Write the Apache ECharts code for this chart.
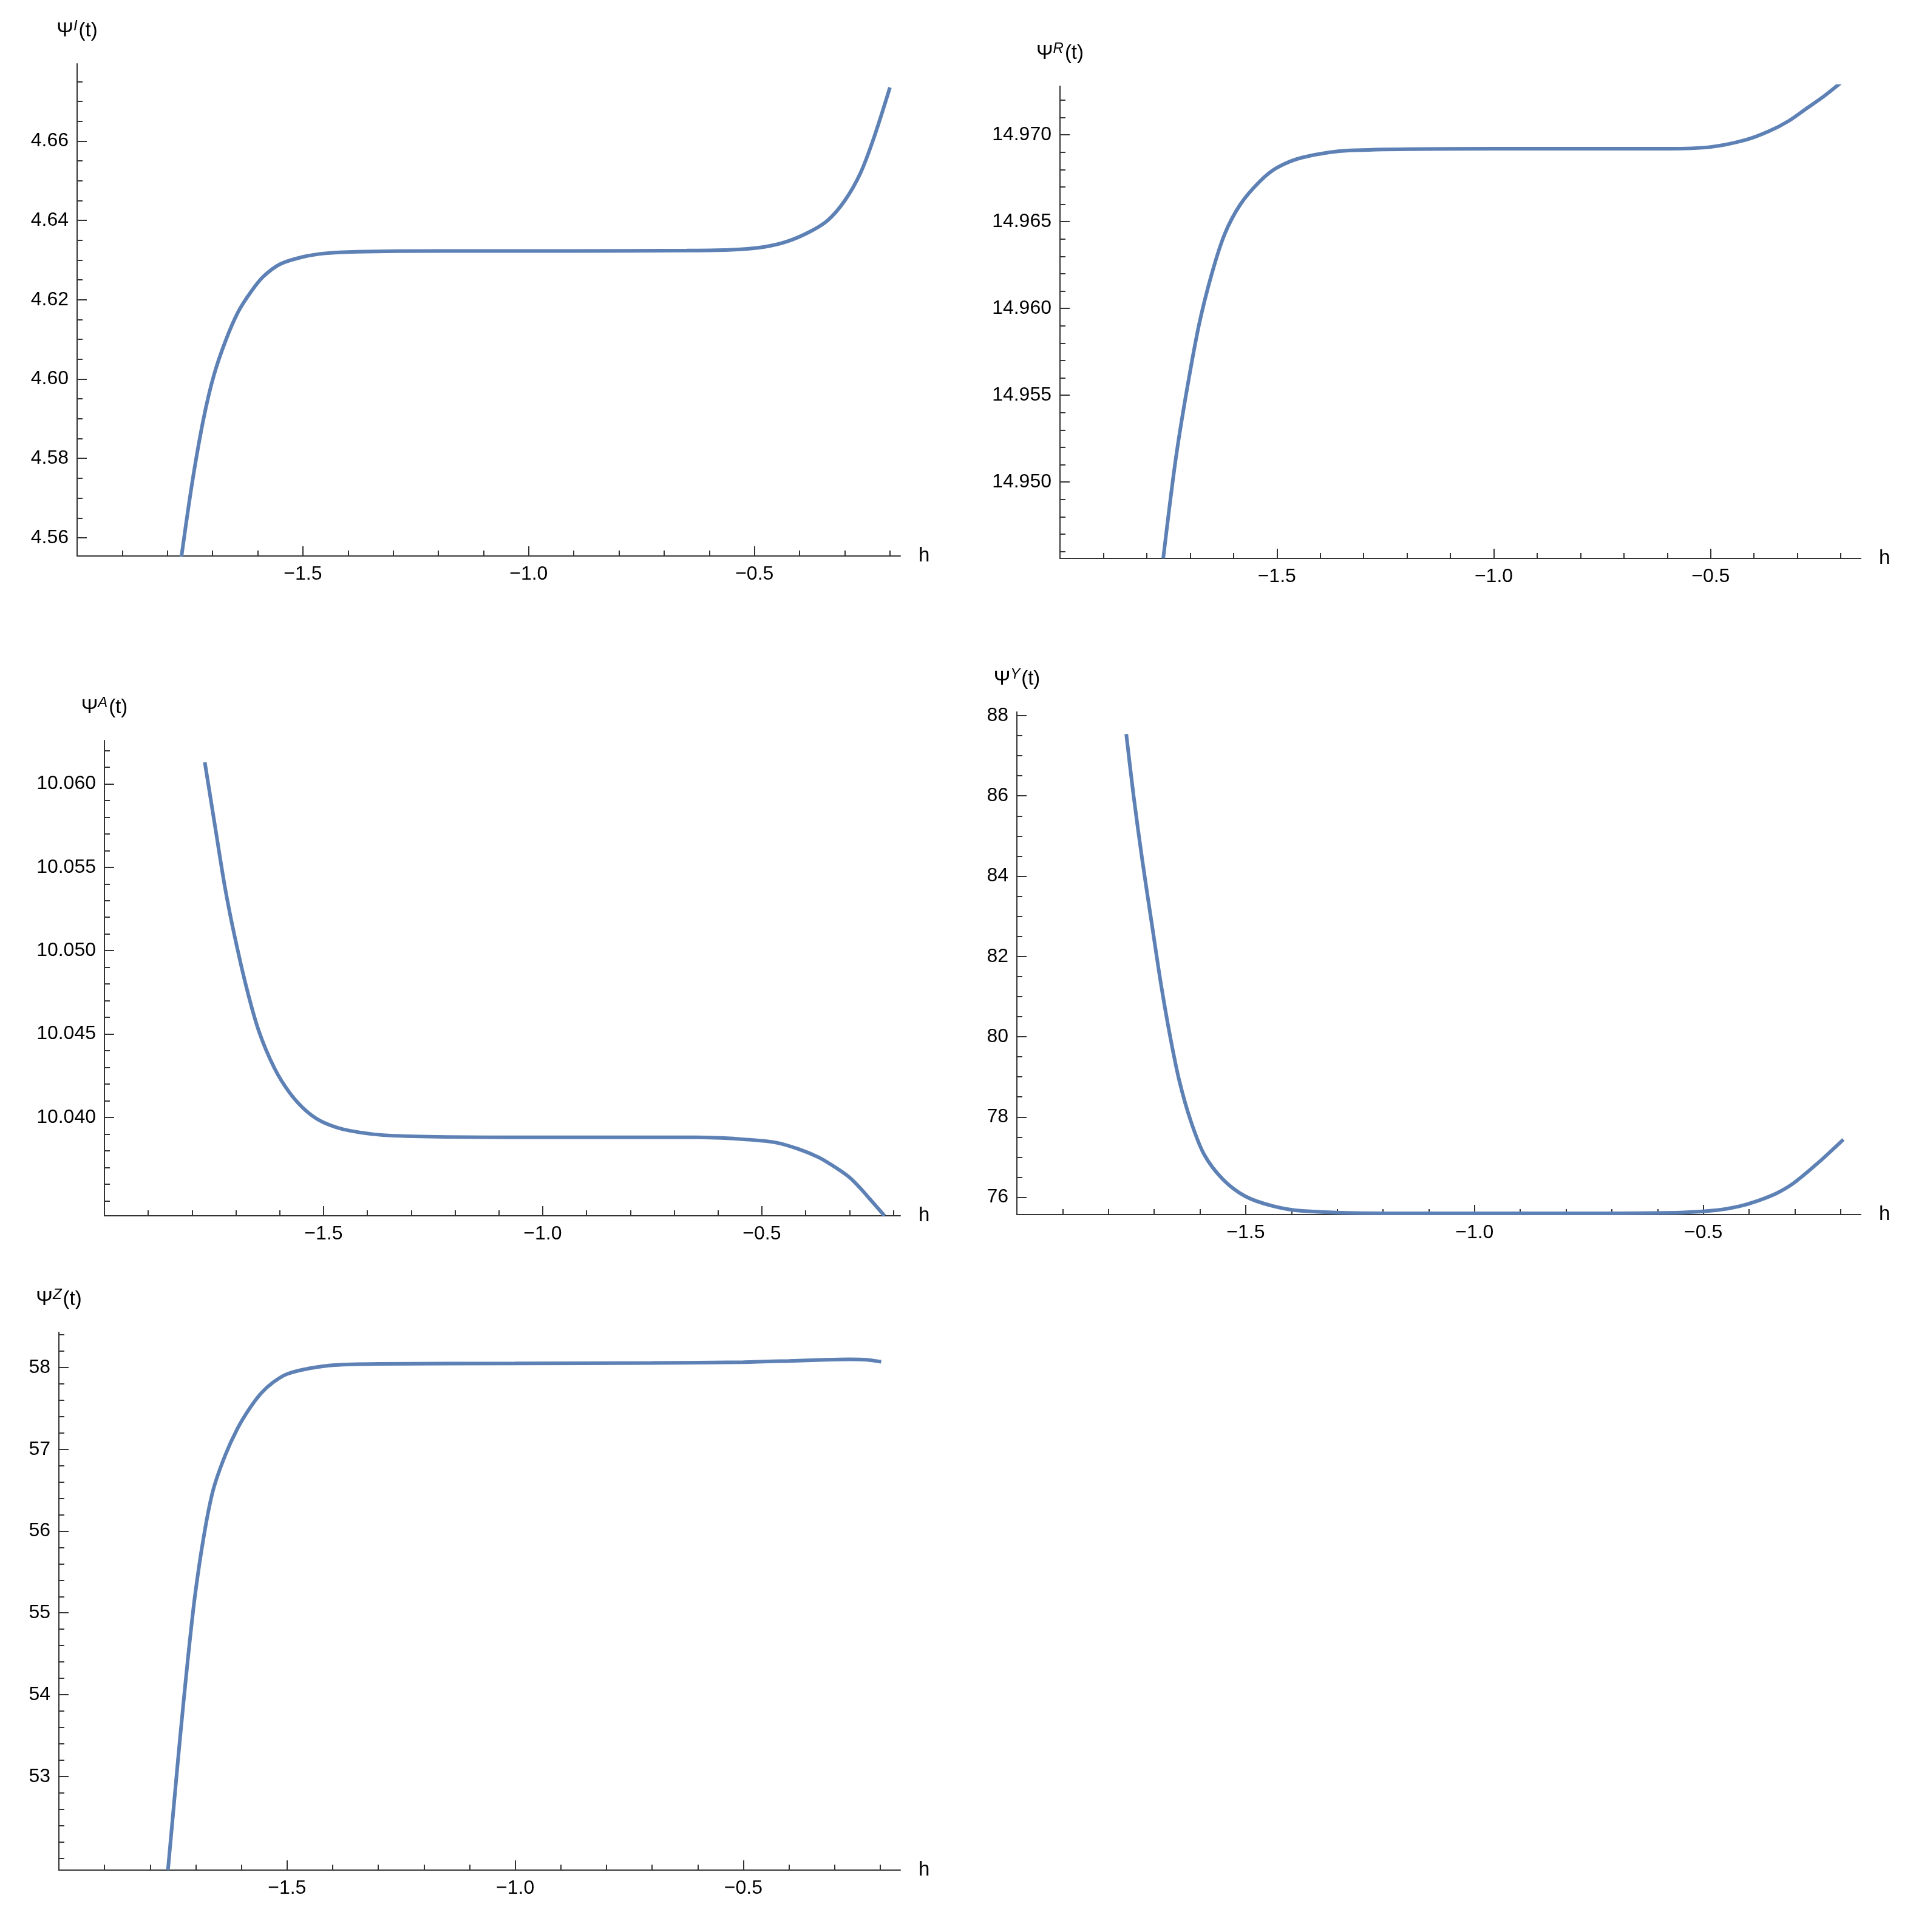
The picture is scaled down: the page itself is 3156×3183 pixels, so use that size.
<!DOCTYPE html>
<html style="height: 100%">
<head>
  <meta charset="utf-8">
</head>
<body style="height: 100%; margin: 0; background: #fff">
  <div id="container" style="height: 100%"></div>
  <script type="text/javascript" src="https://cdn.jsdelivr.net/npm/echarts@6/dist/echarts.min.js"></script>
  <script type="text/javascript">
    // curves: [h, value]
    var psiI = [[-1.769, 4.5552], [-1.745, 4.574], [-1.72, 4.590], [-1.697, 4.601], [-1.67, 4.610],
      [-1.643, 4.617], [-1.615, 4.622], [-1.588, 4.6258], [-1.55, 4.6290], [-1.5, 4.6308], [-1.45, 4.6317],
      [-1.38, 4.6321], [-1.2, 4.6323], [-0.9, 4.6323], [-0.65, 4.6324], [-0.55, 4.6326], [-0.48, 4.6333],
      [-0.43, 4.6346], [-0.38, 4.6370], [-0.338, 4.6400], [-0.30, 4.6450], [-0.265, 4.6520],
      [-0.235, 4.6610], [-0.2, 4.6735]];
    var psiR = [[-1.762, 14.9456], [-1.735, 14.9510], [-1.711, 14.9548], [-1.68, 14.9590], [-1.65, 14.9620],
      [-1.62, 14.9643], [-1.584, 14.9660], [-1.54, 14.9673], [-1.5, 14.9681], [-1.44, 14.9687],
      [-1.33, 14.9691], [-1.0, 14.9692], [-0.6, 14.9692], [-0.5, 14.9693], [-0.42, 14.9697],
      [-0.366, 14.9702], [-0.32, 14.9708], [-0.28, 14.9715], [-0.24, 14.9722], [-0.195, 14.9731]];
    var psiA = [[-1.771, 10.0613], [-1.746, 10.0572], [-1.725, 10.0538], [-1.704, 10.0510], [-1.676, 10.0478],
      [-1.648, 10.0452], [-1.613, 10.0430], [-1.578, 10.0415], [-1.54, 10.0404], [-1.5, 10.0397],
      [-1.44, 10.0392], [-1.34, 10.0389], [-1.0, 10.0388], [-0.65, 10.0388], [-0.55, 10.0387],
      [-0.47, 10.0385], [-0.416, 10.0381], [-0.37, 10.0376], [-0.332, 10.0370], [-0.30, 10.0364],
      [-0.277, 10.0358], [-0.25, 10.0350], [-0.22, 10.0341]];
    var psiY = [[-1.761, 87.54], [-1.745, 86.0], [-1.726, 84.4], [-1.705, 82.8], [-1.685, 81.3],
      [-1.665, 80.0], [-1.645, 78.9], [-1.62, 77.9], [-1.591, 77.07], [-1.55, 76.45], [-1.5, 76.02],
      [-1.44, 75.78], [-1.376, 75.66], [-1.2, 75.6], [-0.8, 75.6], [-0.55, 75.62], [-0.47, 75.68],
      [-0.42, 75.78], [-0.384, 75.90], [-0.34, 76.10], [-0.303, 76.35], [-0.25, 76.85], [-0.194, 77.44]];
    var psiZ = [[-1.761, 51.855], [-1.748, 52.65], [-1.735, 53.44], [-1.718, 54.40], [-1.702, 55.20],
      [-1.682, 55.95], [-1.662, 56.50], [-1.636, 56.92], [-1.609, 57.25], [-1.582, 57.50],
      [-1.556, 57.69], [-1.53, 57.82], [-1.5, 57.92], [-1.45, 57.99], [-1.396, 58.03], [-1.3, 58.045],
      [-1.0, 58.05], [-0.7, 58.055], [-0.5, 58.065], [-0.4, 58.08], [-0.32, 58.095], [-0.267, 58.10],
      [-0.23, 58.095], [-0.198, 58.07]];

    var hTicks = [-1.5, -1.0, -0.5];
    var ticksI = [4.56, 4.58, 4.60, 4.62, 4.64, 4.66];
    var ticksR = [14.950, 14.955, 14.960, 14.965, 14.970];
    var ticksA = [10.040, 10.045, 10.050, 10.055, 10.060];
    var ticksY = [76, 78, 80, 82, 84, 86, 88];
    var ticksZ = [53, 54, 55, 56, 57, 58];

    var panels = [
      { data: psiI, sup: 'I', ticks: ticksI, dec: 2, minor: 0.005, ymin: 4.5554, ymax: 4.6795, xmax: -0.177,
        box: { left: 127, top: 105, width: 1356, height: 811 } },
      { data: psiR, sup: 'R', ticks: ticksR, dec: 3, minor: 0.001, ymin: 14.9456, ymax: 14.9728, xmax: -0.154,
        box: { left: 1746, top: 142, width: 1319, height: 778 } },
      { data: psiA, sup: 'A', ticks: ticksA, dec: 3, minor: 0.001, ymin: 10.0341, ymax: 10.0626, xmax: -0.184,
        box: { left: 172, top: 1220, width: 1311, height: 783 } },
      { data: psiY, sup: 'Y', ticks: ticksY, dec: 0, minor: 0.5, ymin: 75.57, ymax: 88.09, xmax: -0.156,
        box: { left: 1675, top: 1173, width: 1390, height: 828 } },
      { data: psiZ, sup: 'Z', ticks: ticksZ, dec: 0, minor: 0.2, ymin: 51.855, ymax: 58.43, xmax: -0.156,
        box: { left: 97, top: 2195, width: 1386, height: 886 } }
    ];

    function steps(min, max, step) {
      var out = [];
      var k = Math.ceil(min / step - 1e-9);
      for (; k * step <= max + 1e-9; k++) out.push(+(k * step).toFixed(6));
      return out;
    }

    var font = 'Liberation Sans, Arial, sans-serif';
    var lineCol = '#333';
    var grid = [], xAxis = [], yAxis = [], series = [];

    panels.forEach(function (p, i) {
      grid.push(Object.assign({}, p.box));
      var xBase = {
        type: 'value', gridIndex: i, min: -2.0, max: p.xmax, position: 'bottom',
        splitLine: { show: false },
        axisLine: { onZero: false, lineStyle: { color: lineCol, width: 2 } }
      };
      xAxis.push(Object.assign({}, xBase, {
        name: 'h', nameLocation: 'end', nameGap: 30,
        nameTextStyle: { fontFamily: font, fontSize: 33, color: '#000', verticalAlign: 'middle' },
        axisTick: { inside: true, length: 16, customValues: steps(-2, p.xmax, 0.5), lineStyle: { color: lineCol, width: 2 } },
        axisLabel: { customValues: hTicks, fontFamily: font, fontSize: 32, color: '#000', margin: 14,
          formatter: function (v) { return v.toFixed(1).replace('-', '\u2212'); } }
      }));
      xAxis.push(Object.assign({}, xBase, {
        axisLine: { show: false },
        axisTick: { inside: true, length: 9, customValues: steps(-2, p.xmax, 0.1), lineStyle: { color: lineCol, width: 2 } },
        axisLabel: { show: false }
      }));
      var yBase = {
        type: 'value', gridIndex: i, min: p.ymin, max: p.ymax, position: 'left',
        splitLine: { show: false },
        axisLine: { onZero: false, lineStyle: { color: lineCol, width: 2 } }
      };
      yAxis.push(Object.assign({}, yBase, {
        name: '{a|\u03A8}{s|' + p.sup + '}{a|(t)}', nameLocation: 'end', nameGap: 34,
        nameTextStyle: { align: 'center', rich: {
          a: { fontFamily: font, fontSize: 33, color: '#000' },
          s: { fontFamily: font, fontSize: 24, fontStyle: 'italic', color: '#000', verticalAlign: 'top', padding: [0, 2, 16, 0] }
        } },
        axisTick: { inside: true, length: 16, customValues: p.ticks, lineStyle: { color: lineCol, width: 2 } },
        axisLabel: { customValues: p.ticks, fontFamily: font, fontSize: 32, color: '#000', margin: 14,
          formatter: function (v) { return v.toFixed(p.dec); } }
      }));
      yAxis.push(Object.assign({}, yBase, {
        axisLine: { show: false },
        axisTick: { inside: true, length: 9, customValues: steps(p.ymin, p.ymax, p.minor), lineStyle: { color: lineCol, width: 2 } },
        axisLabel: { show: false }
      }));
      series.push({
        type: 'line', xAxisIndex: 2 * i, yAxisIndex: 2 * i, data: p.data,
        smooth: 0.3, showSymbol: false, clip: true,
        lineStyle: { color: '#5E81B5', width: 6 }
      });
    });

    var myChart = echarts.init(document.getElementById('container'), null, { renderer: 'canvas' });
    myChart.setOption({ animation: false, grid: grid, xAxis: xAxis, yAxis: yAxis, series: series });
    window.addEventListener('resize', myChart.resize);
  </script>
</body>
</html>
